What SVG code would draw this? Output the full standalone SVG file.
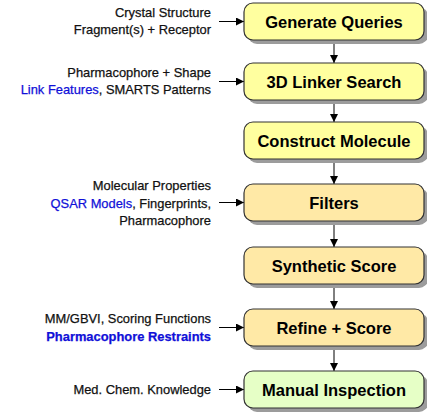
<svg xmlns="http://www.w3.org/2000/svg" width="427" height="419" viewBox="0 0 427 419">
  <style>
    .box { stroke: #333; stroke-width: 1.2; }
    .shadow { fill: #9c9c9c; }
    .y { fill: #ffff9f; }
    .o { fill: #ffe9a6; }
    .g { fill: #e6ffc6; }
    .title { font-family: "Liberation Sans", Arial, sans-serif; font-weight: bold; font-size: 16.5px; fill: #000; text-anchor: middle; }
    .note { font-family: "Liberation Sans", Arial, sans-serif; font-size: 12.9px; fill: #111; stroke: #111; stroke-width: 0.25; text-anchor: end; }
    .blue { fill: #1010d8; stroke: #1010d8; }
    .conn { stroke: #000; stroke-width: 1; fill: none; marker-end: url(#arrow); }
  </style>
  <defs>
    <marker id="arrow" viewBox="0 0 8 8" refX="8" refY="4" markerWidth="8" markerHeight="8" markerUnits="userSpaceOnUse" orient="auto">
      <path d="M0,0 L8,4 L0,8 z" fill="#000"/>
    </marker>
  </defs>

  <g id="connectors">
    <line class="conn" x1="334" y1="40" x2="334" y2="63"/>
    <line class="conn" x1="334" y1="100" x2="334" y2="122"/>
    <line class="conn" x1="334" y1="159" x2="334" y2="184"/>
    <line class="conn" x1="334" y1="221" x2="334" y2="247"/>
    <line class="conn" x1="334" y1="284" x2="334" y2="309"/>
    <line class="conn" x1="334" y1="346" x2="334" y2="371"/>
    <line class="conn" x1="219" y1="21.5" x2="244" y2="21.5"/>
    <line class="conn" x1="219" y1="81.5" x2="244" y2="81.5"/>
    <line class="conn" x1="219" y1="202.5" x2="244" y2="202.5"/>
    <line class="conn" x1="219" y1="327.5" x2="244" y2="327.5"/>
    <line class="conn" x1="219" y1="389.5" x2="244" y2="389.5"/>
  </g>

  <g id="generate-queries">
    <rect class="shadow" x="248" y="7" width="180" height="37" rx="9"/>
    <rect class="box y" x="244" y="3" width="180" height="37" rx="9"/>
    <text class="title" x="334" y="27.5">Generate Queries</text>
  </g>
  <g id="linker-search">
    <rect class="shadow" x="248" y="67" width="180" height="37" rx="9"/>
    <rect class="box y" x="244" y="63" width="180" height="37" rx="9"/>
    <text class="title" x="334" y="87.5">3D Linker Search</text>
  </g>
  <g id="construct-molecule">
    <rect class="shadow" x="248" y="126" width="180" height="37" rx="9"/>
    <rect class="box y" x="244" y="122" width="180" height="37" rx="9"/>
    <text class="title" x="334" y="146.5">Construct Molecule</text>
  </g>
  <g id="filters">
    <rect class="shadow" x="248" y="188" width="180" height="37" rx="9"/>
    <rect class="box o" x="244" y="184" width="180" height="37" rx="9"/>
    <text class="title" x="334" y="208.5">Filters</text>
  </g>
  <g id="synthetic-score">
    <rect class="shadow" x="248" y="251" width="180" height="37" rx="9"/>
    <rect class="box o" x="244" y="247" width="180" height="37" rx="9"/>
    <text class="title" x="334" y="271.5">Synthetic Score</text>
  </g>
  <g id="refine-score">
    <rect class="shadow" x="248" y="313" width="180" height="37" rx="9"/>
    <rect class="box o" x="244" y="309" width="180" height="37" rx="9"/>
    <text class="title" x="334" y="333.5">Refine + Score</text>
  </g>
  <g id="manual-inspection">
    <rect class="shadow" x="248" y="375" width="180" height="37" rx="9"/>
    <rect class="box g" x="244" y="371" width="180" height="37" rx="9"/>
    <text class="title" x="334" y="395.5">Manual Inspection</text>
  </g>

  <g id="inputs">
    <text class="note" x="211" y="17">Crystal Structure</text>
    <text class="note" x="211" y="34">Fragment(s) + Receptor</text>
    <text class="note" x="211" y="77">Pharmacophore + Shape</text>
    <text class="note" x="211" y="94"><tspan class="blue">Link Features</tspan>, SMARTS Patterns</text>
    <text class="note" x="211" y="190">Molecular Properties</text>
    <text class="note" x="211" y="207.5"><tspan class="blue">QSAR Models</tspan>, Fingerprints,</text>
    <text class="note" x="211" y="225">Pharmacophore</text>
    <text class="note" x="211" y="323">MM/GBVI, Scoring Functions</text>
    <text class="note blue" x="211" y="341" font-weight="bold" font-size="12.3px" stroke-width="0">Pharmacophore Restraints</text>
    <text class="note" x="211" y="394">Med. Chem. Knowledge</text>
  </g>
</svg>
